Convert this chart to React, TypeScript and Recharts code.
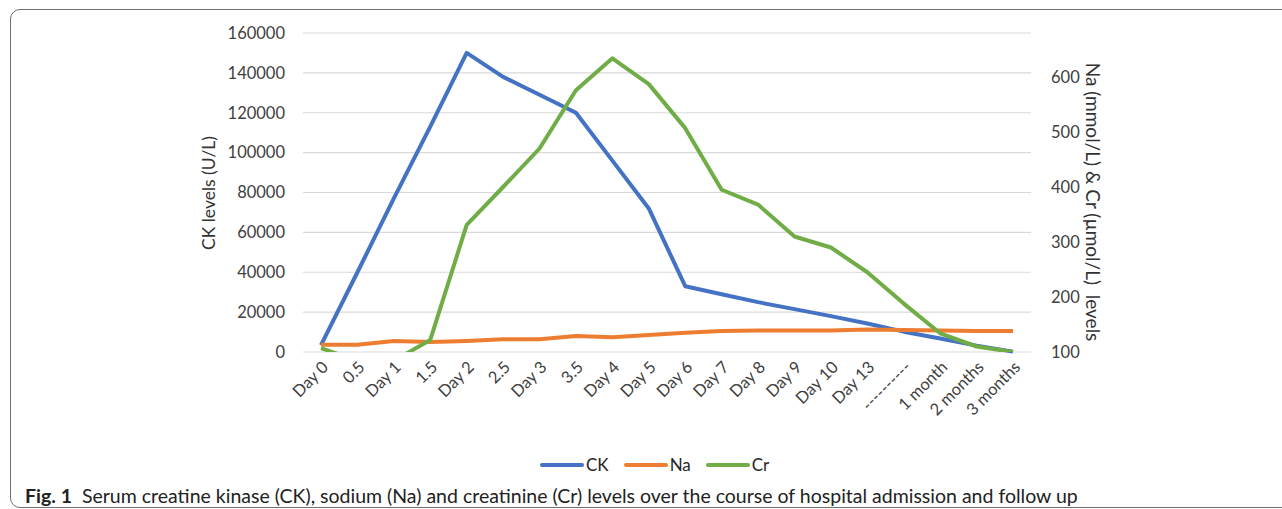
import { LineChart, Line, XAxis, YAxis, CartesianGrid } from "recharts";

const categories = [
  "Day 0", "0.5", "Day 1", "1.5", "Day 2", "2.5", "Day 3", "3.5", "Day 4", "Day 5",
  "Day 6", "Day 7", "Day 8", "Day 9", "Day 10", "Day 13", "----------", "1 month", "2 months", "3 months",
];
const ck = [3500, 40000, 77000, 113000, 150000, 138000, 129000, 120000, 96000, 72000, 33000, 29000, 25000, 21500, 18000, 14300, 10200, 6800, 3200, 200];
const na = [113, 113, 120, 118, 120, 123, 123, 129, 127, 131, 135, 138, 139, 139, 139, 141, 140, 139, 138, 138];
const cr = [107, 84, 84, 122, 331, 400, 470, 576, 634, 587, 507, 395, 368, 310, 290, 245, 188, 134, 110, 100];

const ckTicks = [0, 20000, 40000, 60000, 80000, 100000, 120000, 140000, 160000];
const rightTicks = [100, 200, 300, 400, 500, 600];

const series = [
  { key: "CK", color: "#4472C4" },
  { key: "Na", color: "#ED7D31" },
  { key: "Cr", color: "#70AD47" },
];

const data = categories.map((c, i) => ({ name: c, CK: ck[i], Na: na[i], Cr: cr[i] }));

const FONT = "Lato, 'Open Sans', sans-serif";
const tickStyle = { fill: "#404040", fontSize: 16.5, fontFamily: FONT };

export default function App() {
  return (
    <div style={{ position: "absolute", left: 0, top: 0, width: 1282, height: 509, overflow: "hidden", background: "#fff", fontFamily: FONT }}>
      <div style={{ position: "absolute", left: 10, top: 9, width: 1320, height: 497, border: "1.5px solid #707070", borderRadius: 10 }} />

      <LineChart width={1282} height={440} data={data} margin={{ top: 33, right: 0, left: 0, bottom: 0 }} style={{ position: "absolute", left: 0, top: 0 }}>
        <CartesianGrid yAxisId="left" vertical={false} stroke="#d9d9d9" strokeWidth={1.2} />
        <XAxis dataKey="name" interval={0} height={88} axisLine={false} tickLine={false} angle={-45} textAnchor="end"
          padding={{ left: 18, right: 18 }} tick={tickStyle} tickMargin={2} />
        <YAxis yAxisId="left" width={303} domain={[0, 160000]} ticks={ckTicks} axisLine={false} tickLine={false}
          tickMargin={12} tick={tickStyle} />
        <YAxis yAxisId="right" orientation="right" width={251} domain={[100, 680]} ticks={rightTicks} allowDataOverflow
          axisLine={false} tickLine={false} tickMargin={14} tick={tickStyle} />
        <Line yAxisId="left" dataKey="CK" stroke="#4472C4" strokeWidth={4} dot={false} isAnimationActive={false} strokeLinejoin="round" />
        <Line yAxisId="right" dataKey="Na" stroke="#ED7D31" strokeWidth={4} dot={false} isAnimationActive={false} strokeLinejoin="round" />
        <Line yAxisId="right" dataKey="Cr" stroke="#70AD47" strokeWidth={4} dot={false} isAnimationActive={false} strokeLinejoin="round" />
      </LineChart>

      <div style={{ position: "absolute", left: 208, top: 193, transform: "translate(-50%,-50%) rotate(-90deg)", whiteSpace: "nowrap", fontSize: 17.5, color: "#333" }}>
        CK levels (U/L)
      </div>
      <div style={{ position: "absolute", left: 1093, top: 202, transform: "translate(-50%,-50%) rotate(90deg)", whiteSpace: "pre", fontSize: 19, color: "#333" }}>
        {"Na (mmol/L) & Cr (µmol/L)  levels"}
      </div>

      <div style={{ position: "absolute", left: 540, top: 454, display: "flex", alignItems: "center", fontSize: 17, color: "#262626" }}>
        {series.map((s) => (
          <div key={s.key} style={{ display: "flex", alignItems: "center", marginRight: 15 }}>
            <span style={{ display: "inline-block", width: 44, height: 4, borderRadius: 2, background: s.color, marginRight: 2 }} />
            <span>{s.key}</span>
          </div>
        ))}
      </div>

      <div style={{ position: "absolute", left: 25, top: 484, whiteSpace: "pre", fontSize: 19.5, color: "#222" }}>
        <b>Fig. 1</b>
        {"  Serum creatine kinase (CK), sodium (Na) and creatinine (Cr) levels over the course of hospital admission and follow up"}
      </div>
    </div>
  );
}
